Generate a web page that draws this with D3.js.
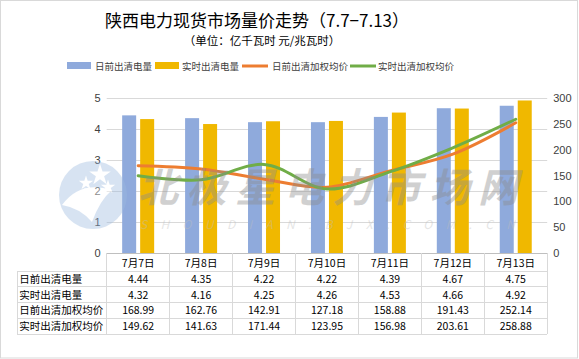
<!DOCTYPE html>
<html>
<head>
<meta charset="utf-8">
<script src="https://cdn.jsdelivr.net/npm/d3@7"></script>
<style>
  body { margin: 0; background: #fff; }
  svg { display: block; font-family: "Noto Sans CJK SC", "DejaVu Sans", sans-serif; }
</style>
</head>
<body>
<div id="chart"></div>
<script>
// chart values
const categories = ["7月7日", "7月8日", "7月9日", "7月10日", "7月11日", "7月12日", "7月13日"];
const seriesNames = ["日前出清电量", "实时出清电量", "日前出清加权均价", "实时出清加权均价"];
const dayAheadVolume = [4.44, 4.35, 4.22, 4.22, 4.39, 4.67, 4.75];
const realTimeVolume = [4.32, 4.16, 4.25, 4.26, 4.53, 4.66, 4.92];
const dayAheadPrice = [168.99, 162.76, 142.91, 127.18, 158.88, 191.43, 252.14];
const realTimePrice = [149.62, 141.63, 171.44, 123.95, 156.98, 203.61, 258.88];
const leftTicks = [0, 1, 2, 3, 4, 5];
const rightTicks = [0, 50, 100, 150, 200, 250, 300];

const width = 579;
const height = 359;
const colors = ["#8faadc", "#f0b800", "#ed7d31", "#70ad47"];

const svg = d3.select("#chart")
  .append("svg")
  .attr("width", width)
  .attr("height", height);

// outer border
svg.append("rect")
  .attr("x", 0.5).attr("y", 0.5)
  .attr("width", 577).attr("height", 357.5)
  .attr("fill", "#fff")
  .attr("stroke", "#d9d9d9");

// title
svg.append("text")
  .attr("x", 257).attr("y", 27)
  .attr("text-anchor", "middle")
  .style("font-size", "17px")
  .attr("fill", "#000")
  .text("陕西电力现货市场量价走势（7.7−7.13）");

svg.append("text")
  .attr("x", 262).attr("y", 45)
  .attr("text-anchor", "middle")
  .style("font-size", "11.5px")
  .attr("fill", "#000")
  .text("（单位：亿千瓦时 元/兆瓦时）");

// scales
const plotLeft = 106.7, plotRight = 547.2, plotTop = 98, plotBottom = 253;

const x = d3.scaleBand()
  .domain(categories)
  .range([plotLeft, plotRight]);

const yLeft = d3.scaleLinear().domain([0, 5]).range([plotBottom, plotTop]);
const yRight = d3.scaleLinear().domain([0, 300]).range([plotBottom, plotTop]);

// gridlines
svg.append("g")
  .selectAll("line")
  .data(leftTicks.slice(1))
  .join("line")
  .attr("x1", plotLeft).attr("x2", plotRight)
  .attr("y1", d => Math.round(yLeft(d)) + 0.5)
  .attr("y2", d => Math.round(yLeft(d)) + 0.5)
  .attr("stroke", "#d9d9d9");

// left axis
const leftAxis = svg.append("g")
  .attr("transform", `translate(${plotLeft - 6},0)`)
  .call(d3.axisLeft(yLeft).tickValues(leftTicks).tickSize(0).tickPadding(0).tickFormat(d3.format("d")));
leftAxis.select(".domain").remove();
leftAxis.selectAll("text").style("font-size", "11px").attr("fill", "#404040").attr("font-family", "Liberation Sans, Arial, sans-serif");

// right axis
const rightAxis = svg.append("g")
  .attr("transform", `translate(${plotRight + 6},0)`)
  .call(d3.axisRight(yRight).tickValues(rightTicks).tickSize(0).tickPadding(0).tickFormat(d3.format("d")));
rightAxis.select(".domain").remove();
rightAxis.selectAll("text").style("font-size", "11px").attr("fill", "#404040").attr("font-family", "Liberation Sans, Arial, sans-serif");

// bars
const barW = 14, barOff = 9;
const volumes = [dayAheadVolume, realTimeVolume];
volumes.forEach((vals, i) => {
  svg.append("g")
    .selectAll("rect")
    .data(vals)
    .join("rect")
    .attr("x", (d, j) => x(categories[j]) + x.bandwidth() / 2 + (i === 0 ? -barOff : barOff) - barW / 2)
    .attr("y", d => yLeft(d))
    .attr("width", barW)
    .attr("height", d => plotBottom - yLeft(d))
    .attr("fill", colors[i]);
});

// smoothed price lines
const line = d3.line()
  .x((d, j) => x(categories[j]) + x.bandwidth() / 2)
  .y(d => yRight(d))
  .curve(d3.curveCatmullRom.alpha(0.5));

[dayAheadPrice, realTimePrice].forEach((vals, i) => {
  svg.append("path")
    .datum(vals)
    .attr("d", line)
    .attr("fill", "none")
    .attr("stroke", colors[i + 2])
    .attr("stroke-width", 3)
    .attr("stroke-linecap", "round");
});

// watermark
const wm = svg.append("g").attr("opacity", 0.4);
wm.append("circle").attr("cx", 93).attr("cy", 195).attr("r", 34).attr("fill", "#9dbbe0");
wm.append("path")
  .attr("d", "M62,205 Q80,180 112,190 Q100,200 92,222 Q80,208 62,205 Z")
  .attr("fill", "#fff");
[[100, 175, 6], [86, 183, 4], [108, 187, 4], [85, 193, 3]].forEach(s => {
  wm.append("path")
    .attr("d", d3.symbol(d3.symbolStar, s[2] * s[2] * 4)())
    .attr("transform", `translate(${s[0]},${s[1]})`)
    .attr("fill", "#fff");
});
wm.append("text")
  .attr("x", 138).attr("y", 202)
  .style("font-size", "40px").style("font-weight", "bold").style("font-style", "italic")
  .attr("textLength", 380)
  .attr("fill", "#8c8c8c")
  .text("北极星电力市场网");
wm.append("text")
  .attr("x", 140).attr("y", 229)
  .style("font-size", "12px").style("font-style", "italic")
  .attr("textLength", 375)
  .attr("fill", "#bfbfbf")
  .text("SHOUDIAN.BJX.COM.CN");

// legend
const legendItems = [
  { x: 67, tx: 95, type: "rect" },
  { x: 155, tx: 182, type: "rect" },
  { x: 242, tx: 272, type: "line" },
  { x: 350, tx: 378, type: "line" }
];
const legend = svg.append("g");
legendItems.forEach((item, i) => {
  if (item.type === "rect") {
    legend.append("rect")
      .attr("x", item.x).attr("y", 62)
      .attr("width", 24).attr("height", 7)
      .attr("fill", colors[i]);
  } else {
    legend.append("line")
      .attr("x1", item.x).attr("x2", item.x + 26)
      .attr("y1", 66).attr("y2", 66)
      .attr("stroke", colors[i]).attr("stroke-width", 3);
  }
  legend.append("text")
    .attr("x", item.tx).attr("y", 70)
    .style("font-size", "9.5px")
    .attr("fill", "#404040")
    .text(seriesNames[i]);
});

// data table
const rowTops = [253, 271, 286.7, 302.3, 318.3, 334];
const tableLeft = 17.3;
const grid = svg.append("g").attr("stroke", "#d9d9d9").attr("shape-rendering", "crispEdges");
rowTops.slice(1).forEach(ty => {
  grid.append("line").attr("x1", tableLeft).attr("x2", plotRight).attr("y1", ty).attr("y2", ty);
});
grid.append("line").attr("x1", plotLeft).attr("x2", plotRight).attr("y1", plotBottom).attr("y2", plotBottom).attr("stroke", "#bfbfbf");
grid.append("line").attr("x1", tableLeft).attr("x2", tableLeft).attr("y1", rowTops[1]).attr("y2", rowTops[5]);
categories.forEach(c => {
  grid.append("line").attr("x1", x(c)).attr("x2", x(c)).attr("y1", plotBottom).attr("y2", rowTops[5]);
});
grid.append("line").attr("x1", plotRight).attr("x2", plotRight).attr("y1", plotBottom).attr("y2", rowTops[5]);

// header row
svg.append("g")
  .selectAll("text")
  .data(categories)
  .join("text")
  .attr("x", d => x(d) + x.bandwidth() / 2)
  .attr("y", 266.5)
  .attr("text-anchor", "middle")
  .style("font-size", "10.5px")
  .attr("fill", "#000")
  .text(d => d);

const tableRows = [dayAheadVolume, realTimeVolume, dayAheadPrice, realTimePrice];
tableRows.forEach((vals, r) => {
  const cy = (rowTops[r + 1] + rowTops[r + 2]) / 2 + 4;
  svg.append("text")
    .attr("x", tableLeft + 2).attr("y", cy)
    .style("font-size", "10.5px")
    .attr("fill", "#000")
    .text(seriesNames[r]);
  svg.append("g")
    .selectAll("text")
    .data(vals)
    .join("text")
    .attr("x", (d, j) => x(categories[j]) + x.bandwidth() / 2)
    .attr("y", cy)
    .attr("text-anchor", "middle")
    .style("font-size", "10.5px")
    .attr("fill", "#000")
    .text(d => d.toFixed(2));
});
</script>
</body>
</html>
